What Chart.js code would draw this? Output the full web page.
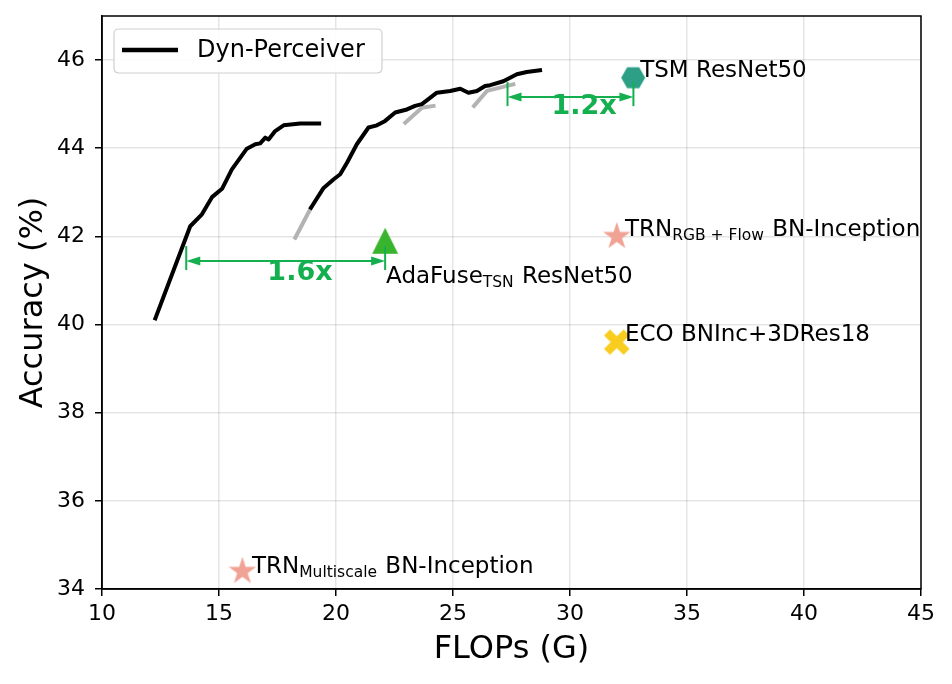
<!DOCTYPE html>
<html><head><meta charset="utf-8">
<script src="https://cdn.jsdelivr.net/npm/chart.js@4.4.0/dist/chart.umd.min.js"></script>
<style>html,body{margin:0;padding:0;background:#fff;}#wrap{width:952px;height:684px;}</style>
</head><body><div id="wrap"><canvas id="c" width="952" height="684"></canvas></div>
<script>
// ---- data ----
const curve1X = [12.28, 13.77, 14.27, 14.70, 15.13, 15.55, 16.19, 16.55, 16.76, 16.98, 17.12, 17.40, 17.76, 18.47, 19.28];
const curve1Y = [40.14, 42.23, 42.50, 42.89, 43.08, 43.52, 43.99, 44.09, 44.11, 44.24, 44.20, 44.39, 44.52, 44.56, 44.56];
const curve2X = [18.93, 19.47, 19.89, 20.18, 20.47, 20.89, 21.39, 21.75, 22.10, 22.53, 23.03, 23.38, 23.67, 24.31, 24.88, 25.31, 25.66, 26.02, 26.37, 26.59, 27.15, 27.73, 28.15, 28.72];
const curve2Y = [42.65, 43.10, 43.29, 43.41, 43.67, 44.09, 44.47, 44.52, 44.62, 44.81, 44.88, 44.96, 45.00, 45.26, 45.30, 45.35, 45.26, 45.30, 45.41, 45.43, 45.52, 45.68, 45.73, 45.77];
const grayAX = [18.26, 18.93];          const grayAY = [41.97, 42.65];
const grayBX = [22.96, 23.67, 24.17];   const grayBY = [44.58, 44.92, 44.96];
const grayCX = [25.90, 26.45, 27.58];   const grayCY = [44.96, 45.30, 45.45];
const methodNames = ['TSM ResNet50', 'AdaFuse ResNet50', 'TRN RGB+Flow', 'ECO', 'TRN Multiscale'];
const methodFlops = [32.7, 22.1, 32.0, 32.0, 16.0];
const methodAcc   = [45.6, 41.9, 42.0, 39.6, 34.4];
const xTicks = [10, 15, 20, 25, 30, 35, 40, 45];
const yTicks = [34, 36, 38, 40, 42, 44, 46];
// speed-up annotations
const speedupLabels = ['1.6x', '1.2x'];
const speedupFrom = [13.6, 27.33];
const speedupTo   = [22.1, 32.71];
const speedupAcc  = [41.44, 45.16];

// ---- styles ----
const FONT = "'DejaVu Sans', sans-serif";
const GREEN = '#14b04f';
const PINK = '#f0a295', YELLOW = '#f9cd1f', TEAL = '#2d9f87', TRI = '#39b42d';

function mk(w, h, draw) { const c = document.createElement('canvas'); c.width = w; c.height = h; const g = c.getContext('2d'); draw(g, w / 2, h / 2); return c; }
const starImg = mk(32, 32, (g, cx, cy) => {
  const R = 14.5, r = R * 0.382; g.beginPath();
  for (let i = 0; i < 10; i++) { const a = -Math.PI / 2 + i * Math.PI / 5; const rr = i % 2 ? r : R; g.lineTo(cx + rr * Math.cos(a), cy + rr * Math.sin(a)); }
  g.closePath(); g.fillStyle = PINK; g.fill();
});
const hexImg = mk(28, 28, (g, cx, cy) => {
  const R = 12; g.beginPath();
  for (let i = 0; i < 6; i++) { const a = i * Math.PI / 3; g.lineTo(cx + R * Math.cos(a), cy + R * Math.sin(a)); }
  g.closePath(); g.fillStyle = TEAL; g.fill();
});
const triImg = mk(30, 30, (g, cx, cy) => {
  const s = 13; g.beginPath(); g.moveTo(cx, cy - s); g.lineTo(cx + s, cy + s); g.lineTo(cx - s, cy + s); g.closePath(); g.fillStyle = TRI; g.fill();
});
const xImg = mk(30, 30, (g, cx, cy) => {
  const d = 9.8; g.strokeStyle = YELLOW; g.lineWidth = 8.5; g.lineCap = 'butt';
  g.beginPath(); g.moveTo(cx - d, cy - d); g.lineTo(cx + d, cy + d); g.moveTo(cx + d, cy - d); g.lineTo(cx - d, cy + d); g.stroke();
});
const markerImgs = [hexImg, triImg, starImg, xImg, starImg];

const pts = (xs, ys) => xs.map((v, i) => ({ x: v, y: ys[i] }));
const lineDS = (xs, ys, color, order) => ({
  data: pts(xs, ys), showLine: true, borderColor: color, borderWidth: 4, pointRadius: 0,
  borderJoinStyle: 'round', borderCapStyle: 'square', fill: false, tension: 0, order
});
const datasets = [
  lineDS(curve1X, curve1Y, '#000', 1),
  lineDS(curve2X, curve2Y, '#000', 1),
  lineDS(grayAX, grayAY, '#b3b3b3', 2),
  lineDS(grayBX, grayBY, '#b3b3b3', 2),
  lineDS(grayCX, grayCY, '#b3b3b3', 2)
];
methodNames.forEach((n, i) => datasets.push({
  data: [{ x: methodFlops[i], y: methodAcc[i] }], pointStyle: markerImgs[i], pointRadius: 12, showLine: false, order: 0
}));

// text labels (left-aligned, baseline) in data coordinates
const textLabels = [
  { parts: [['TSM ResNet50', 0]], x: 33.0, y: 45.61 },
  { parts: [['AdaFuse', 0], ['TSN', 1], [' ResNet50', 0]], x: 22.14, y: 40.95 },
  { parts: [['TRN', 0], ['RGB + Flow', 1], [' BN-Inception', 0]], x: 32.35, y: 42.02 },
  { parts: [['ECO BNInc+3DRes18', 0]], x: 32.35, y: 39.62 },
  { parts: [['TRN', 0], ['Multiscale', 1], [' BN-Inception', 0]], x: 16.41, y: 34.36 }
];
const speedupTextPos = [[18.46, 41.02], [30.60, 44.77]];

const overlay = {
  id: 'overlay',
  afterDatasetsDraw(chart) {
    const { ctx, scales: { x, y } } = chart;
    ctx.save();
    speedupLabels.forEach((lab, i) => {
      const x1 = x.getPixelForValue(speedupFrom[i]), x2 = x.getPixelForValue(speedupTo[i]), yy = y.getPixelForValue(speedupAcc[i]);
      ctx.strokeStyle = GREEN; ctx.fillStyle = GREEN; ctx.lineWidth = 2;
      ctx.beginPath(); ctx.moveTo(x1 + 6, yy); ctx.lineTo(x2 - 6, yy); ctx.stroke();
      [x1, x2].forEach(px => { ctx.beginPath(); ctx.moveTo(px, yy - 15); ctx.lineTo(px, yy + 9); ctx.stroke(); });
      ctx.beginPath(); ctx.moveTo(x1, yy); ctx.lineTo(x1 + 14, yy - 4.5); ctx.lineTo(x1 + 14, yy + 4.5); ctx.closePath(); ctx.fill();
      ctx.beginPath(); ctx.moveTo(x2, yy); ctx.lineTo(x2 - 14, yy - 4.5); ctx.lineTo(x2 - 14, yy + 4.5); ctx.closePath(); ctx.fill();
      ctx.font = 'bold 27px ' + FONT; ctx.textAlign = 'center'; ctx.textBaseline = 'alphabetic';
      ctx.fillText(lab, x.getPixelForValue(speedupTextPos[i][0]), y.getPixelForValue(speedupTextPos[i][1]));
    });
    ctx.fillStyle = '#000'; ctx.textAlign = 'left'; ctx.textBaseline = 'alphabetic';
    textLabels.forEach(t => {
      let px = x.getPixelForValue(t.x); const py = y.getPixelForValue(t.y);
      t.parts.forEach(([s, sub]) => {
        ctx.font = (sub ? '15.5px ' : '23px ') + FONT;
        ctx.fillText(s, px, py + (sub ? 4 : 0));
        px += ctx.measureText(s).width + (sub ? 1 : 0);
      });
    });
    ctx.restore();
  },
  afterDraw(chart) {
    const { ctx, chartArea: a } = chart;
    ctx.save();
    ctx.strokeStyle = '#000'; ctx.lineWidth = 1.5;
    ctx.strokeRect(a.left, a.top, a.right - a.left, a.bottom - a.top);
    const lx = a.left + 12, ly = a.top + 13, lw = 268, lh = 44, r = 5;
    ctx.beginPath();
    ctx.moveTo(lx + r, ly); ctx.lineTo(lx + lw - r, ly); ctx.quadraticCurveTo(lx + lw, ly, lx + lw, ly + r);
    ctx.lineTo(lx + lw, ly + lh - r); ctx.quadraticCurveTo(lx + lw, ly + lh, lx + lw - r, ly + lh);
    ctx.lineTo(lx + r, ly + lh); ctx.quadraticCurveTo(lx, ly + lh, lx, ly + lh - r);
    ctx.lineTo(lx, ly + r); ctx.quadraticCurveTo(lx, ly, lx + r, ly); ctx.closePath();
    ctx.fillStyle = 'rgba(255,255,255,0.85)'; ctx.fill();
    ctx.strokeStyle = '#d0d0d0'; ctx.lineWidth = 1.2; ctx.stroke();
    ctx.strokeStyle = '#000'; ctx.lineWidth = 4.5;
    ctx.beginPath(); ctx.moveTo(a.left + 20, a.top + 34); ctx.lineTo(a.left + 76, a.top + 34); ctx.stroke();
    ctx.fillStyle = '#000'; ctx.font = '24px ' + FONT; ctx.textAlign = 'left'; ctx.textBaseline = 'middle';
    ctx.fillText('Dyn-Perceiver', a.left + 95, a.top + 35);
    ctx.restore();
  }
};

const gridCfg = { color: 'rgba(0,0,0,0.1)', lineWidth: 1.5, tickColor: '#000', tickLength: 7, tickWidth: 1.5 };
new Chart(document.getElementById('c'), {
  type: 'scatter',
  data: { datasets },
  options: {
    responsive: false, animation: false, events: [],
    layout: { padding: { left: 0, right: 31, top: 16, bottom: 0 } },
    plugins: { legend: { display: false }, tooltip: { enabled: false } },
    scales: {
      x: {
        type: 'linear', min: 10, max: 45,
        afterBuildTicks(s) { s.ticks = xTicks.map(v => ({ value: v })); },
        ticks: { color: '#000', font: { family: FONT, size: 22 }, padding: 5, maxRotation: 0 },
        grid: gridCfg, border: { color: '#000', width: 1.5 },
        title: { display: true, text: 'FLOPs (G)', color: '#000', font: { family: FONT, size: 32 }, padding: { top: 0, bottom: 15 } },
        afterFit(s) { s.height = 95; }
      },
      y: {
        type: 'linear', min: 34, max: 47,
        afterBuildTicks(s) { s.ticks = yTicks.map(v => ({ value: v })); },
        ticks: { color: '#000', font: { family: FONT, size: 22 }, padding: 10 },
        grid: gridCfg, border: { color: '#000', width: 1.5 },
        title: { display: true, text: 'Accuracy (%)', color: '#000', font: { family: FONT, size: 32 }, padding: { top: 14, bottom: 0 } },
        afterFit(s) { s.width = 102; s.paddingTop = 0; s.paddingBottom = 0; }
      }
    }
  },
  plugins: [overlay]
});
</script></body></html>
